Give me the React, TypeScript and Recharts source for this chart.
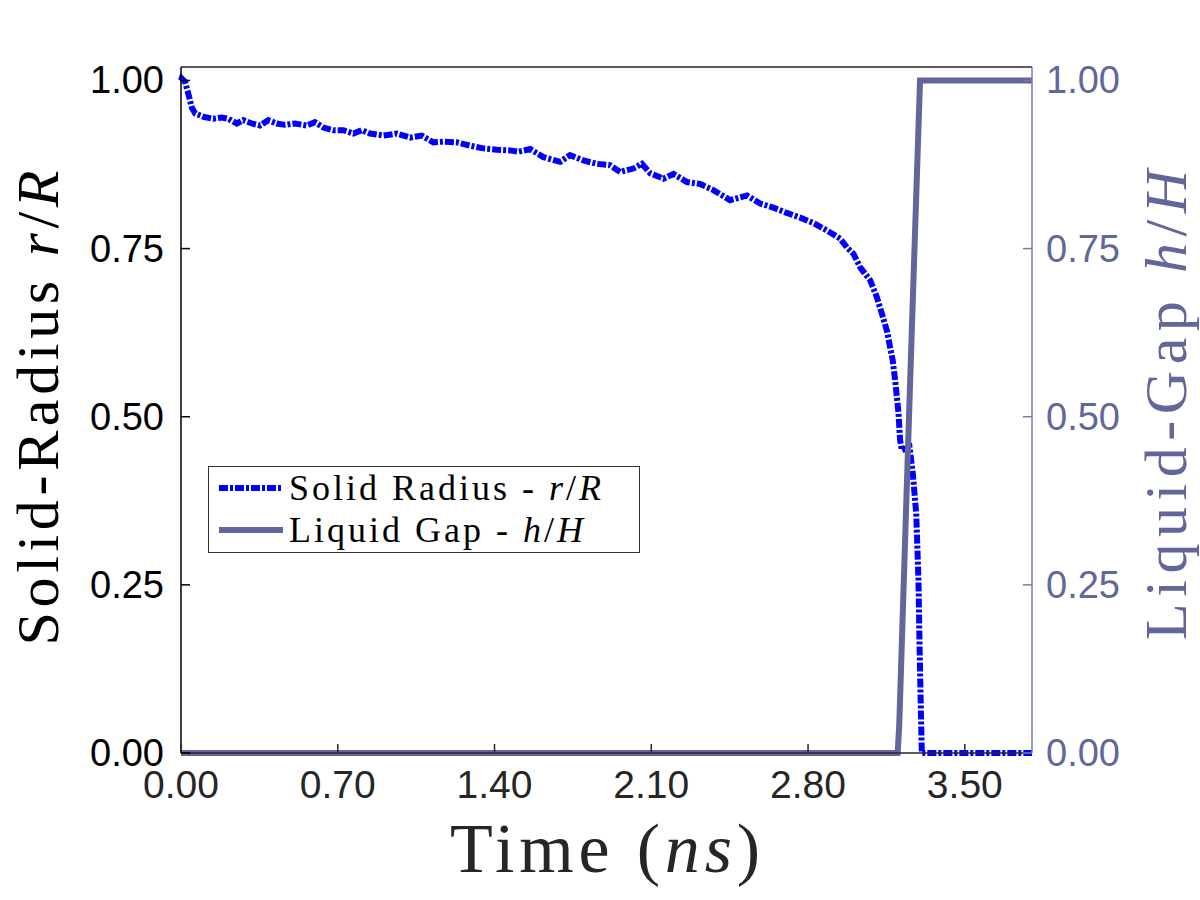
import React from "react";
import { LineChart, Line, XAxis, YAxis, Label } from "recharts";

// solid radius r/R
const timeSolid = [
  0, 0.003, 0.018, 0.033, 0.048, 0.063, 0.1, 0.144, 0.182, 0.211, 0.249, 0.278, 0.316, 0.353, 0.39, 0.427,
  0.464, 0.509, 0.561, 0.598, 0.636, 0.68, 0.725, 0.77, 0.807, 0.844, 0.904, 0.963, 1.023, 1.075, 1.127,
  1.171, 1.231, 1.291, 1.35, 1.41, 1.469, 1.506, 1.559, 1.618, 1.693, 1.737, 1.797, 1.857, 1.916, 1.961,
  2.02, 2.058, 2.095, 2.154, 2.199, 2.259, 2.318, 2.377, 2.452, 2.527, 2.586, 2.645, 2.705, 2.765, 2.824,
  2.884, 2.943, 2.973, 3.003, 3.033, 3.077, 3.107, 3.13, 3.152, 3.166, 3.178, 3.189, 3.204, 3.211, 3.219,
  3.253, 3.268, 3.283, 3.293, 3.298, 3.304, 3.308, 3.5, 3.8,
];
const radiusSolid = [
  1.0, 1.003, 0.998, 0.98, 0.96, 0.951, 0.946, 0.943, 0.945, 0.943, 0.936, 0.941, 0.936, 0.933, 0.941, 0.936,
  0.934, 0.936, 0.933, 0.938, 0.93, 0.926, 0.926, 0.921, 0.926, 0.921, 0.918, 0.921, 0.915, 0.918, 0.908,
  0.909, 0.908, 0.903, 0.899, 0.897, 0.896, 0.894, 0.898, 0.886, 0.879, 0.889, 0.881, 0.876, 0.874, 0.864,
  0.869, 0.876, 0.862, 0.854, 0.861, 0.849, 0.846, 0.837, 0.822, 0.829, 0.817, 0.811, 0.803, 0.796, 0.788,
  0.777, 0.765, 0.752, 0.742, 0.722, 0.703, 0.678, 0.653, 0.628, 0.604, 0.584, 0.554, 0.505, 0.465, 0.45,
  0.455, 0.415, 0.356, 0.257, 0.158, 0.059, 0.0, 0.0, 0.0,
];

// liquid gap h/H
const timeGap = [0, 3.2, 3.207, 3.256, 3.3, 3.8];
const gapValues = [0, 0, 0.04, 0.554, 1.0, 1.0];

const timeTicks = [0, 0.7, 1.4, 2.1, 2.8, 3.5];
const fracTicks = [0, 0.25, 0.5, 0.75, 1.0];

const solidData = timeSolid.map((t, i) => ({ t, v: radiusSolid[i] }));
const gapData = timeGap.map((t, i) => ({ t, v: gapValues[i] }));

const BLUE = "#0000ff";
const GAP = "#63669b";
const GAP_AXIS = "#7a7aad";
const SANS = "'Liberation Sans', Arial, sans-serif";
const SERIF = "'Liberation Serif', 'Times New Roman', serif";

const BottomTick = (props: any) => {
  const { x, y, payload } = props;
  return (
    <g>
      <line x1={x} y1={y} x2={x} y2={y - 9} stroke="#262626" strokeWidth={1.5} />
      <text x={x} y={y + 45} textAnchor="middle" fill="#262626" fontFamily={SANS} fontSize={39}>
        {payload.value.toFixed(2)}
      </text>
    </g>
  );
};

const LeftTick = (props: any) => {
  const { x, y, payload } = props;
  return (
    <g>
      <line x1={x} y1={y} x2={x + 9} y2={y} stroke="#000" strokeWidth={1.5} />
      <text x={x - 17} y={y + 13} textAnchor="end" fill="#000" fontFamily={SANS} fontSize={38}>
        {payload.value.toFixed(2)}
      </text>
    </g>
  );
};

const RightTick = (props: any) => {
  const { x, y, payload } = props;
  return (
    <g>
      <line x1={x} y1={y} x2={x - 9} y2={y} stroke={GAP_AXIS} strokeWidth={1.5} />
      <text x={x + 14} y={y + 13} textAnchor="start" fill={GAP} fontFamily={SANS} fontSize={38}>
        {payload.value.toFixed(2)}
      </text>
    </g>
  );
};

const TopTick = (props: any) => {
  const { x, y } = props;
  return <line x1={x} y1={y} x2={x} y2={y + 9} stroke="#262626" strokeWidth={1.5} />;
};

const legendRows = [
  { name: "Solid Radius - ", a: "r", b: "R", color: BLUE, dash: "9 2 3 2" },
  { name: "Liquid Gap - ", a: "h", b: "H", color: GAP, dash: undefined },
];

const Legend = () => (
  <div
    style={{
      position: "absolute",
      left: 208,
      top: 466,
      width: 432,
      height: 87,
      border: "1.5px solid #333",
      background: "#fff",
      fontFamily: SERIF,
      fontSize: 36,
      letterSpacing: 3,
      color: "#000",
      boxSizing: "border-box",
    }}
  >
    {legendRows.map((row, i) => (
      <div
        key={i}
        style={{
          position: "absolute",
          left: 8,
          top: 0 + i * 42,
          height: 42,
          lineHeight: "42px",
          display: "flex",
          alignItems: "center",
          whiteSpace: "nowrap",
        }}
      >
        <svg width={68} height={12} style={{ marginRight: 4 }}>
          <line x1={2} y1={6} x2={66} y2={6} stroke={row.color} strokeWidth={6} strokeDasharray={row.dash} />
        </svg>
        <span>
          {row.name}
          <i>{row.a}</i>/<i>{row.b}</i>
        </span>
      </div>
    ))}
  </div>
);

export default function App() {
  return (
    <div style={{ position: "absolute", left: 0, top: 0, width: 1200, height: 900, background: "#fff" }}>
      <LineChart width={1200} height={900} margin={{ top: 66, right: 0, bottom: 0, left: 0 }}>
        <XAxis
          xAxisId="main"
          dataKey="t"
          type="number"
          domain={[0, 3.8]}
          ticks={timeTicks}
          height={147}
          stroke="#262626"
          strokeWidth={1.5}
          tickSize={0}
          tickMargin={0}
          tickLine={false}
          tick={<BottomTick />}
          interval={0}
        >
          <Label
            content={() => (
              <text
                x={605}
                y={872}
                textAnchor="middle"
                fill="#262626"
                fontFamily={SERIF}
                fontSize={70}
                textLength={310}
                lengthAdjust="spacing"
              >
                Time (<tspan fontStyle="italic">ns</tspan>)
              </text>
            )}
          />
        </XAxis>
        <XAxis
          xAxisId="top"
          orientation="top"
          dataKey="t"
          type="number"
          domain={[0, 3.8]}
          ticks={timeTicks}
          height={1}
          stroke="#262626"
          strokeWidth={1.5}
          tickSize={0}
          tickMargin={0}
          tickLine={false}
          tick={<TopTick />}
          interval={0}
        />
        <YAxis
          yAxisId="left"
          type="number"
          domain={[0, 1.02]}
          ticks={fracTicks}
          width={181}
          stroke="#000"
          strokeWidth={1.5}
          tickSize={0}
          tickMargin={0}
          tickLine={false}
          tick={<LeftTick />}
          interval={0}
        >
          <Label
            content={() => (
              <text
                x={58}
                y={408}
                transform="rotate(-90 58 408)"
                textAnchor="middle"
                fill="#000"
                fontFamily={SERIF}
                fontSize={60}
                textLength={475}
                lengthAdjust="spacing"
              >
                Solid-Radius <tspan fontStyle="italic">r</tspan>/<tspan fontStyle="italic">R</tspan>
              </text>
            )}
          />
        </YAxis>
        <YAxis
          yAxisId="right"
          orientation="right"
          type="number"
          domain={[0, 1.02]}
          ticks={fracTicks}
          width={168}
          stroke={GAP_AXIS}
          strokeWidth={1.5}
          tickSize={0}
          tickMargin={0}
          tickLine={false}
          tick={<RightTick />}
          interval={0}
        >
          <Label
            content={() => (
              <text
                x={1186}
                y={405}
                transform="rotate(-90 1186 405)"
                textAnchor="middle"
                fill={GAP}
                fontFamily={SERIF}
                fontSize={60}
                textLength={470}
                lengthAdjust="spacing"
              >
                Liquid-Gap <tspan fontStyle="italic">h</tspan>/<tspan fontStyle="italic">H</tspan>
              </text>
            )}
          />
        </YAxis>
        <Line
          xAxisId="main"
          yAxisId="left"
          data={solidData}
          dataKey="v"
          type="linear"
          stroke={BLUE}
          strokeWidth={6}
          strokeDasharray="9 2 3 2"
          dot={false}
          activeDot={false}
          isAnimationActive={false}
        />
        <Line
          xAxisId="main"
          yAxisId="right"
          data={gapData}
          dataKey="v"
          type="linear"
          stroke={GAP}
          strokeWidth={6}
          strokeLinejoin="miter"
          dot={false}
          activeDot={false}
          isAnimationActive={false}
        />
      </LineChart>
      <Legend />
    </div>
  );
}
